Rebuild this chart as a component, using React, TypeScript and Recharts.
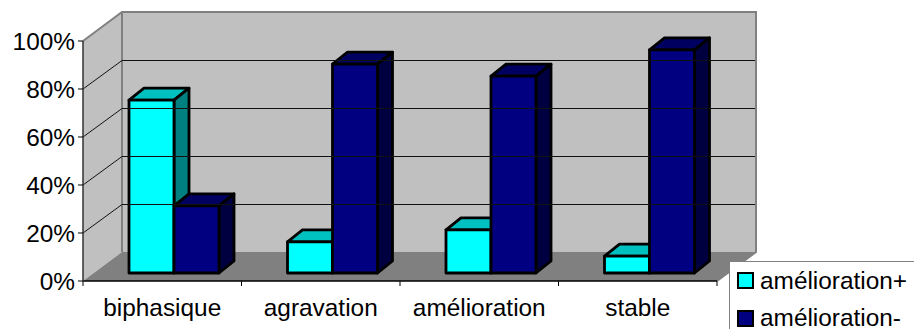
import React from "react";
import { BarChart, Bar, XAxis, YAxis, Legend, ReferenceArea, ReferenceLine } from "recharts";

const categories = ["biphasique", "agravation", "amélioration", "stable"];
const plusValues = [72, 13, 18, 7];
const minusValues = [28, 87, 82, 93];
const percentTicks = [0, 20, 40, 60, 80, 100];
const seriesPlus = "amélioration+";
const seriesMinus = "amélioration-";

const rows = categories.map((name, i) => ({
  name,
  plus: plusValues[i],
  minus: minusValues[i],
}));

const FONT = "'Liberation Sans', Arial, sans-serif";
const WIDTH = 914;
const HEIGHT = 329;
const AXIS_LEFT = 83;
const AXIS_HEIGHT = 30;
const MARGIN = { top: 41, right: 197, bottom: 18, left: 0 };
const BAND = (WIDTH - AXIS_LEFT - MARGIN.right) / categories.length;
// Depth of the box behind the plot plane.
const WALL_DX = 39;
const WALL_DY = -29;
// Where a bar stands inside the box, and how deep each bar is.
const BAR_DX = 12;
const BAR_DY = -8;
const BAR_DEPTH_X = 15;
const BAR_DEPTH_Y = -12;

const pts = (list: number[][]) => list.map((p) => p.join(",")).join(" ");

// Side wall, back wall and floor of the 3D box.
function BoxWalls({ x, y, width, height }: any) {
  const b = y + height;
  const r = x + width;
  return (
    <g>
      <polygon points={pts([[x, y], [x + WALL_DX, y + WALL_DY], [x + WALL_DX, b + WALL_DY], [x, b]])} fill="#c0c0c0" />
      <rect x={x + WALL_DX} y={y + WALL_DY} width={width} height={height} fill="#c0c0c0" />
      <polygon points={pts([[x, b], [x + WALL_DX, b + WALL_DY], [r + WALL_DX, b + WALL_DY], [r, b]])} fill="#808080" />
      <polyline
        points={pts([[x, y], [x + WALL_DX, y + WALL_DY], [r + WALL_DX, y + WALL_DY], [r + WALL_DX, b + WALL_DY], [r, b]])}
        fill="none"
        stroke="#808080"
        strokeWidth={2}
      />
      <line x1={x + WALL_DX} y1={y + WALL_DY} x2={x + WALL_DX} y2={b + WALL_DY} stroke="#808080" strokeWidth={2} />
    </g>
  );
}

// One gridline: slanted across the side wall, then level along the back wall.
function WallGridLine({ x1, y1, x2, y2 }: any) {
  const left = Math.min(x1, x2);
  const right = Math.max(x1, x2);
  return (
    <polyline
      points={pts([[left, y1], [left + WALL_DX, y1 + WALL_DY + 0.5], [right + WALL_DX - 1, y2 + WALL_DY + 0.5]])}
      fill="none"
      stroke="#111"
      strokeWidth={1}
    />
  );
}

function Bar3D({ x, y, width, height, fill, topFill, sideFill }: any) {
  const fx = x + BAR_DX;
  const fy = y + BAR_DY;
  const fr = fx + width;
  const fb = fy + height;
  const dx = BAR_DEPTH_X;
  const dy = BAR_DEPTH_Y;
  const outline = { stroke: "#000", strokeWidth: 2.8, strokeLinejoin: "round" as const };
  return (
    <g>
      <polygon points={pts([[fx, fy], [fx + dx, fy + dy], [fr + dx, fy + dy], [fr, fy]])} fill={topFill} {...outline} />
      <polygon points={pts([[fr, fy], [fr + dx, fy + dy], [fr + dx, fb + dy], [fr, fb]])} fill={sideFill} {...outline} />
      <rect x={fx} y={fy} width={width} height={height} fill={fill} {...outline} />
    </g>
  );
}

function CategoryTick({ x, y, payload, index }: any) {
  const tickTop = y - 8;
  return (
    <g>
      {index === 0 && <line x1={x - BAND / 2} y1={tickTop} x2={x - BAND / 2} y2={tickTop + 5} stroke="#000" />}
      <line x1={x + BAND / 2} y1={tickTop} x2={x + BAND / 2} y2={tickTop + 5} stroke="#000" />
      <text x={x} y={tickTop + 35} textAnchor="middle" fontFamily={FONT} fontSize={24.4} fill="#000">
        {payload.value}
      </text>
    </g>
  );
}

function LegendBox({ payload }: any) {
  return (
    <div
      style={{
        width: 200,
        height: 100,
        boxSizing: "border-box",
        background: "#fff",
        border: "1px solid #808080",
        paddingLeft: 7,
        paddingTop: 0,
        fontFamily: FONT,
        fontSize: 24.4,
        lineHeight: "20px",
        color: "#000",
      }}
    >
      {(payload || []).map((item: any) => (
        <div key={item.value} style={{ display: "flex", alignItems: "center", height: 37.5 }}>
          <span
            style={{
              display: "inline-block",
              width: 13,
              height: 13,
              boxSizing: "content-box",
              background: item.color,
              border: "2px solid #000",
              marginRight: 6,
            }}
          />
          <span>{item.value}</span>
        </div>
      ))}
    </div>
  );
}

export default function App() {
  return (
    <div style={{ position: "absolute", left: 0, top: 0, width: WIDTH, height: HEIGHT, overflow: "hidden", background: "#fff" }}>
      <BarChart
        width={WIDTH}
        height={HEIGHT}
        data={rows}
        margin={MARGIN}
        barCategoryGap={34}
        barGap={0}
      >
        <XAxis
          dataKey="name"
          height={AXIS_HEIGHT}
          axisLine={{ stroke: "#000", strokeWidth: 1.5 }}
          tickLine={false}
          interval={0}
          tick={<CategoryTick />}
        />
        <YAxis
          width={AXIS_LEFT}
          domain={[0, 100]}
          ticks={percentTicks}
          tickFormatter={(v: number) => `${v}%`}
          axisLine={{ stroke: "#333", strokeWidth: 1.5 }}
          tickLine={{ stroke: "#000" }}
          tickSize={5}
          tickMargin={3}
          tick={{ fontFamily: FONT, fontSize: 24.4, fill: "#000" }}
        />
        <ReferenceArea y1={0} y2={100} shape={<BoxWalls />} ifOverflow="visible" />
        {percentTicks.slice(1, -1).map((v) => (
          <ReferenceLine key={v} y={v} shape={<WallGridLine />} ifOverflow="visible" />
        ))}
        <Legend
          layout="vertical"
          align="center"
          verticalAlign="middle"
          wrapperStyle={{ position: "absolute", left: 729, top: 261, width: 200, height: 100 }}
          content={<LegendBox />}
        />
        <Bar
          dataKey="plus"
          name={seriesPlus}
          fill="#00ffff"
          isAnimationActive={false}
          shape={<Bar3D topFill="#00c0c0" sideFill="#008080" />}
        />
        <Bar
          dataKey="minus"
          name={seriesMinus}
          fill="#000080"
          isAnimationActive={false}
          shape={<Bar3D topFill="#000060" sideFill="#000040" />}
        />
      </BarChart>
    </div>
  );
}
